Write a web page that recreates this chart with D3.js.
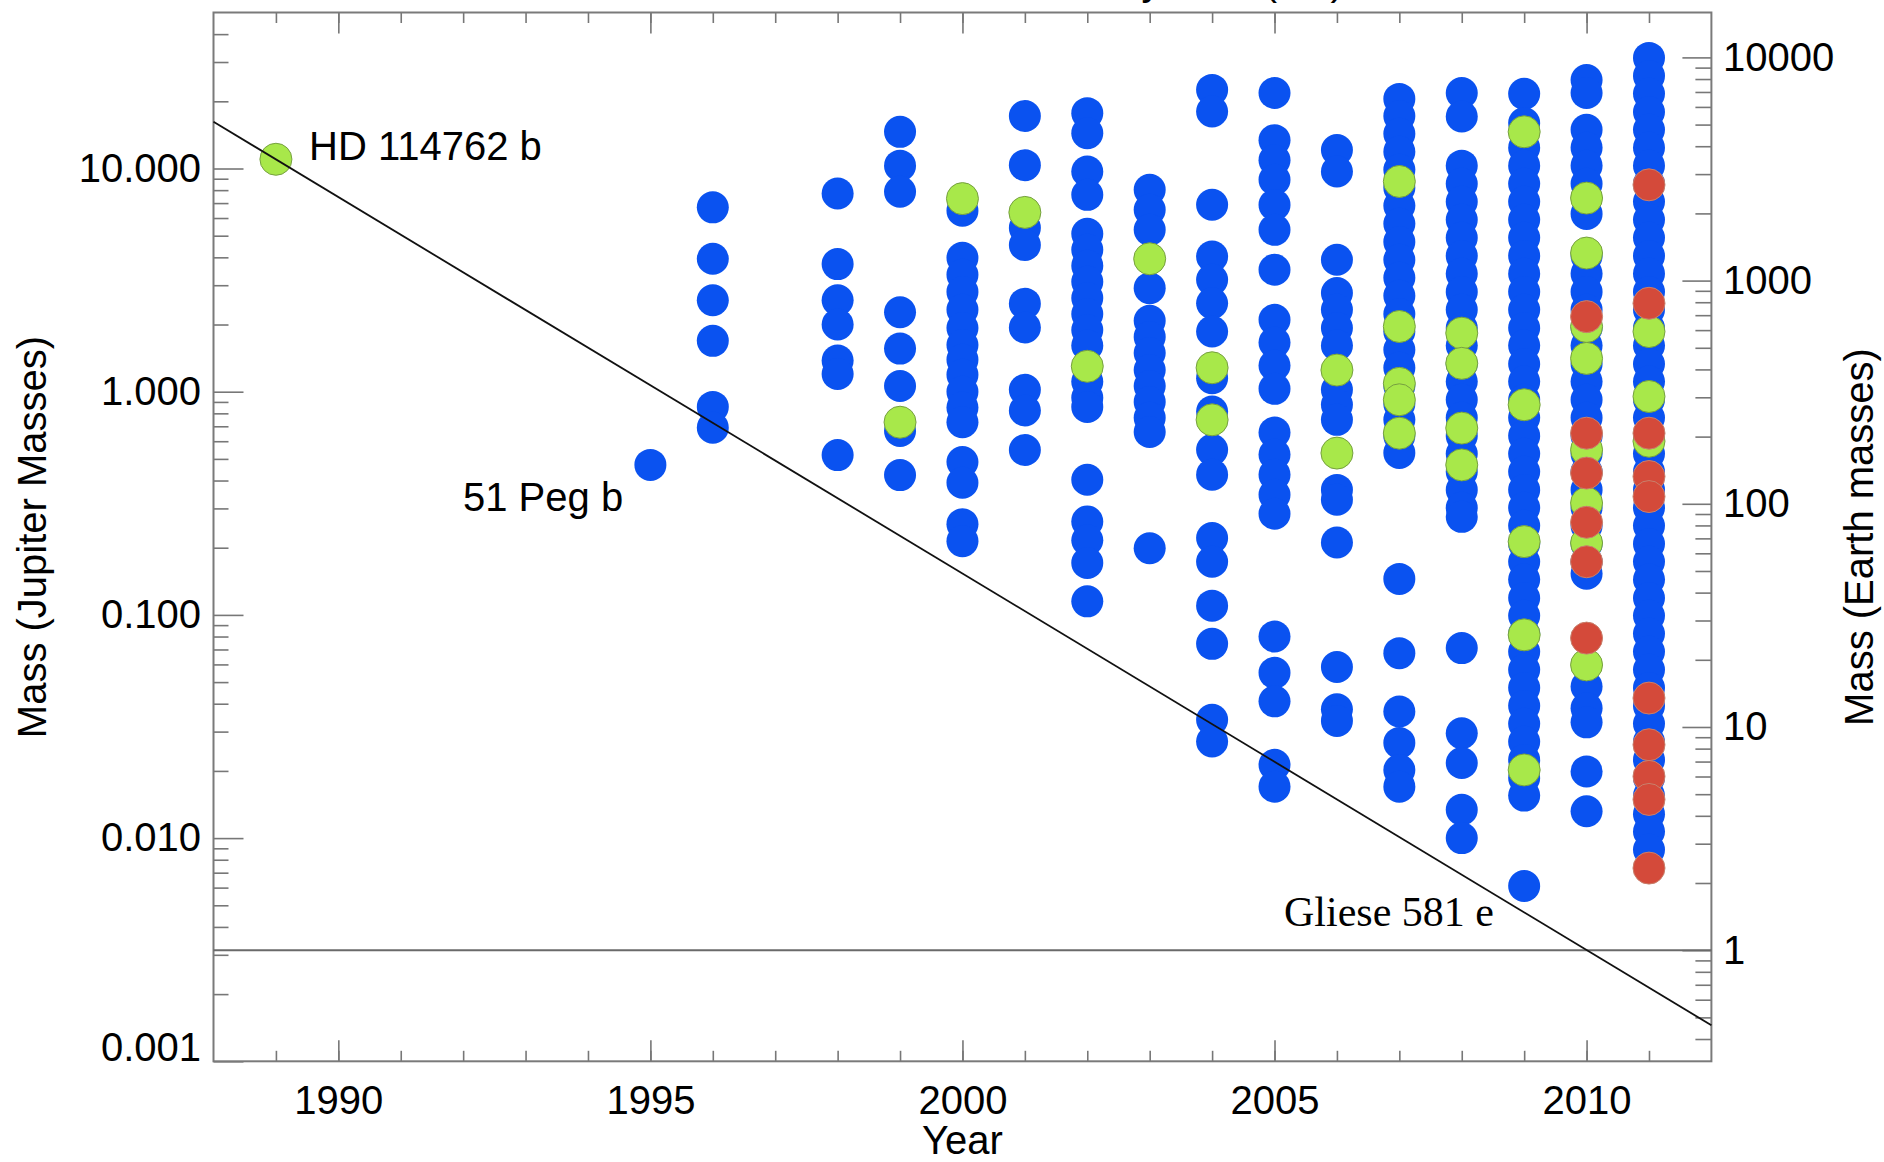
<!DOCTYPE html>
<html>
<head>
<meta charset="UTF-8">
<title>Planet mass by discovery year</title>
<script src="https://d3js.org/d3.v7.min.js"></script>
<style>
    body { margin: 0; background: #fff; }
    text { font-family: "Liberation Sans", Arial, Helvetica, sans-serif; fill: #000; }
    .axis text { font-size: 40px; }
    .axis line { stroke: #777; stroke-width: 1.6; }
    .frame { fill: none; stroke: #7a7a7a; stroke-width: 2; }
    .label { font-size: 40px; }
    .serif { font-family: "Liberation Serif", "Times New Roman", serif; font-size: 42px; }
    .blue { fill: #0a52f0; }
    .green { fill: #a8e84a; stroke: #76a040; stroke-width: 1; }
    .red { fill: #d44a3a; stroke: #c8806c; stroke-width: 1; }
</style>
</head>
<body>
<div id="chart"></div>
<script>
// masses in Jupiter masses, one list per discovery year (blue points)
const blue1995 = [0.47];
const blue1996 = [6.7, 3.94, 2.57, 1.69, 0.855, 0.69];
const blue1998 = [7.73, 3.73, 2.57, 2.0, 1.38, 1.2, 0.52];
const blue1999 = [14.6, 10.3, 7.87, 2.27, 1.56, 1.06, 0.667, 0.423];
const blue2000 = [6.47, 3.98, 3.34, 2.80, 2.33, 1.93, 1.62, 1.39, 1.19, 1.0, 0.85, 0.73, 0.484, 0.391, 0.255, 0.214];
const blue2001 = [17.2, 10.35, 5.42, 4.54, 2.48, 1.94, 1.02, 0.824, 0.548];
const blue2002 = [17.7, 14.4, 9.7, 7.62, 5.10, 4.32, 3.67, 3.11, 2.63, 2.23, 1.89, 1.61, 1.11, 0.94, 0.855, 0.403, 0.262, 0.216, 0.171, 0.115];
const blue2003 = [8.03, 6.53, 5.31, 2.91, 2.08, 1.76, 1.49, 1.25, 1.06, 0.90, 0.764, 0.66, 0.199];
const blue2004 = [22.5, 18.0, 6.88, 4.03, 3.17, 2.49, 1.86, 1.15, 0.815, 0.549, 0.425, 0.221, 0.173, 0.11, 0.0742, 0.0339, 0.0271];
const blue2005 = [21.8, 13.4, 10.9, 8.9, 6.87, 5.31, 3.52, 2.1, 1.66, 1.31, 1.03, 0.656, 0.523, 0.425, 0.345, 0.284, 0.08, 0.055, 0.041, 0.0213, 0.017];
const blue2006 = [12.1, 9.7, 3.90, 2.77, 2.33, 1.93, 1.61, 1.02, 0.874, 0.748, 0.363, 0.328, 0.211, 0.0584, 0.0378, 0.0335];
const blue2007 = [20.5, 17.2, 14.3, 11.9, 9.87, 8.19, 6.81, 5.65, 4.69, 3.90, 3.24, 2.69, 2.23, 1.86, 1.54, 1.28, 1.06, 0.883, 0.748, 0.634, 0.532, 0.145, 0.0674, 0.0369, 0.0267, 0.0202, 0.017];
const blue2008 = [21.8, 17.1, 10.3, 8.54, 7.09, 5.89, 4.89, 4.06, 3.38, 2.80, 2.33, 1.93, 1.61, 1.33, 1.11, 0.92, 0.764, 0.634, 0.527, 0.438, 0.363, 0.302, 0.275, 0.071, 0.0295, 0.0217, 0.0134, 0.010];
const blue2009 = [21.6, 16.0, 12.4, 10.3, 8.54, 7.09, 5.89, 4.89, 4.06, 3.38, 2.80, 2.33, 1.93, 1.61, 1.33, 1.11, 0.92, 0.764, 0.634, 0.527, 0.438, 0.363, 0.302, 0.251, 0.208, 0.173, 0.144, 0.119, 0.0991, 0.0823, 0.0684, 0.0568, 0.0471, 0.0391, 0.0325, 0.0270, 0.0224, 0.0186, 0.0155, 0.0061];
const blue2010 = [24.9, 21.8, 14.9, 12.4, 10.3, 8.54, 6.26, 4.06, 3.38, 2.80, 2.33, 1.93, 1.61, 1.33, 1.11, 0.92, 0.764, 0.634, 0.527, 0.438, 0.363, 0.302, 0.251, 0.208, 0.173, 0.153, 0.0478, 0.0382, 0.033, 0.0199, 0.0132];
const blue2011 = [31.3, 26.0, 21.6, 17.9, 14.9, 12.4, 10.3, 8.54, 7.09, 5.89, 4.89, 4.06, 3.38, 2.80, 2.33, 1.93, 1.61, 1.33, 1.11, 0.92, 0.764, 0.634, 0.527, 0.438, 0.363, 0.302, 0.251, 0.208, 0.173, 0.144, 0.119, 0.0991, 0.0823, 0.0684, 0.0568, 0.0471, 0.0391, 0.0325, 0.0270, 0.0224, 0.0186, 0.0155, 0.0128, 0.0107, 0.00886];

// green points
const greenYears = [1989, 1999, 2000, 2001, 2002, 2003, 2004, 2004, 2006, 2006,
    2007, 2007, 2007, 2007, 2007, 2008, 2008, 2008, 2008,
    2009, 2009, 2009, 2009, 2009, 2010, 2010, 2010, 2010, 2010, 2010, 2010, 2010,
    2011, 2011, 2011];
const greenMass = [11.0, 0.73, 7.33, 6.36, 1.30, 3.94, 1.28, 0.748, 1.25, 0.531,
    8.75, 1.96, 1.09, 0.92, 0.652, 1.83, 1.34, 0.687, 0.47,
    14.6, 0.874, 0.213, 0.0814, 0.0202, 7.37, 4.18, 1.96, 1.41, 0.549, 0.317, 0.21, 0.0597,
    1.86, 0.952, 0.60];

// red points
const redYears = [2010, 2010, 2010, 2010, 2010, 2010,
    2011, 2011, 2011, 2011, 2011, 2011, 2011, 2011, 2011, 2011];
const redMass = [2.17, 0.652, 0.432, 0.26, 0.173, 0.0787,
    8.45, 2.49, 0.652, 0.417, 0.339, 0.0424, 0.0262, 0.0189, 0.0149, 0.00734];

// axis ticks
const yearTicks = [1990, 1995, 2000, 2005, 2010];
const jupiterTicks = [0.001, 0.01, 0.1, 1, 10];
const earthTicks = [1, 10, 100, 1000, 10000];

// trend line through HD 114762 b and one Earth mass in 2010
const trendYears = [1988, 2012];
const trendMass = [16.2, 0.00145];

const EARTH_PER_JUPITER = 317.83;

const margin = {top: 12.5, right: 172.6, bottom: 100.7, left: 213.5};
const width = 1884 - margin.left - margin.right;
const height = 1162 - margin.top - margin.bottom;

const svg = d3.select("#chart")
    .append("svg")
        .attr("width", 1884)
        .attr("height", 1162);
const g = svg.append("g")
    .attr("transform", `translate(${margin.left},${margin.top})`);

const x = d3.scaleLinear().domain([1988, 2012]).range([0, width]);
const y = d3.scaleLog().domain([0.001, 50]).range([height, 0]);
const yEarth = d3.scaleLog()
    .domain([0.001 * EARTH_PER_JUPITER, 50 * EARTH_PER_JUPITER])
    .range([height, 0]);

function minorLogTicks(lo, hi) {
    const out = [];
    for (let e = Math.floor(Math.log10(lo)); e <= Math.ceil(Math.log10(hi)); e++) {
        for (let k = 2; k <= 9; k++) {
            const v = k * Math.pow(10, e);
            if (v > lo && v < hi) out.push(v);
        }
    }
    return out;
}
const noDomain = sel => sel.select(".domain").remove();

// bottom axis
g.append("g")
    .attr("class", "axis")
    .attr("transform", `translate(0,${height})`)
    .call(d3.axisBottom(x).tickValues(yearTicks).tickFormat(d3.format("d")).tickSize(-21).tickPadding(24))
    .call(noDomain);
g.append("g")
    .attr("class", "axis")
    .attr("transform", `translate(0,${height})`)
    .call(d3.axisBottom(x).tickValues(d3.range(1989, 2012)).tickFormat("").tickSize(-10.5))
    .call(noDomain);

// top axis (mirror, no labels)
g.append("g")
    .attr("class", "axis")
    .call(d3.axisTop(x).tickValues(yearTicks).tickFormat("").tickSize(-21))
    .call(noDomain);
g.append("g")
    .attr("class", "axis")
    .call(d3.axisTop(x).tickValues(d3.range(1989, 2012)).tickFormat("").tickSize(-10.5))
    .call(noDomain);

// left axis, Jupiter masses
const yAxisLeft = g.append("g")
    .attr("class", "axis")
    .call(d3.axisLeft(y).tickValues(jupiterTicks).tickFormat(d3.format(".3f")).tickSize(-30).tickPadding(12.5))
    .call(noDomain);
yAxisLeft.selectAll("text")
    .filter(d => d === 0.001)
    .attr("dy", "-0.03em");
g.append("g")
    .attr("class", "axis")
    .call(d3.axisLeft(y).tickValues(minorLogTicks(0.001, 50)).tickFormat("").tickSize(-15))
    .call(noDomain);

// right axis, Earth masses
g.append("g")
    .attr("class", "axis")
    .attr("transform", `translate(${width},0)`)
    .call(d3.axisRight(yEarth).tickValues(earthTicks).tickFormat(d3.format("d")).tickSize(-29).tickPadding(11.6))
    .call(noDomain);
g.append("g")
    .attr("class", "axis")
    .attr("transform", `translate(${width},0)`)
    .call(d3.axisRight(yEarth).tickValues(minorLogTicks(yEarth.domain()[0], yEarth.domain()[1])).tickFormat("").tickSize(-16))
    .call(noDomain);

// frame
g.append("rect")
    .attr("class", "frame")
    .attr("width", width)
    .attr("height", height);

// one Earth mass
g.append("line")
    .attr("x1", 0)
    .attr("x2", width)
    .attr("y1", y(1 / EARTH_PER_JUPITER))
    .attr("y2", y(1 / EARTH_PER_JUPITER))
    .attr("stroke", "#6a6a6a")
    .attr("stroke-width", 2);

// points
const blueColumns = [
    [1995, blue1995], [1996, blue1996], [1998, blue1998], [1999, blue1999],
    [2000, blue2000], [2001, blue2001], [2002, blue2002], [2003, blue2003],
    [2004, blue2004], [2005, blue2005], [2006, blue2006], [2007, blue2007],
    [2008, blue2008], [2009, blue2009], [2010, blue2010], [2011, blue2011]
];
const bluePoints = blueColumns.flatMap(([yr, ms]) => ms.map(m => ({year: yr, mass: m})));
const greenPoints = greenYears.map((yr, i) => ({year: yr, mass: greenMass[i]}));
const redPoints = redYears.map((yr, i) => ({year: yr, mass: redMass[i]}));

const R = 16;
[["blue", bluePoints], ["green", greenPoints], ["red", redPoints]].forEach(([cls, pts]) => {
    g.append("g").selectAll("circle")
        .data(pts)
        .join("circle")
            .attr("class", cls)
            .attr("cx", d => x(d.year))
            .attr("cy", d => y(d.mass))
            .attr("r", R);
});

// trend line
g.append("path")
    .datum(trendYears.map((yr, i) => [yr, trendMass[i]]))
    .attr("fill", "none")
    .attr("stroke", "#111")
    .attr("stroke-width", 1.8)
    .attr("d", d3.line().x(d => x(d[0])).y(d => y(d[1])));

// annotations
svg.append("text").attr("class", "label").attr("x", 309).attr("y", 160).text("HD 114762 b");
svg.append("text").attr("class", "label").attr("x", 463).attr("y", 511).text("51 Peg b");
svg.append("text").attr("class", "serif").attr("x", 1284).attr("y", 926).text("Gliese 581 e");

// axis titles
svg.append("text")
    .attr("class", "label")
    .attr("text-anchor", "middle")
    .attr("x", margin.left + width / 2)
    .attr("y", 1154)
    .text("Year");
svg.append("text")
    .attr("class", "label")
    .attr("text-anchor", "middle")
    .attr("transform", "translate(46,537) rotate(-90)")
    .text("Mass (Jupiter Masses)");
svg.append("text")
    .attr("class", "label")
    .attr("text-anchor", "middle")
    .attr("transform", "translate(1873,537) rotate(-90)")
    .text("Mass (Earth masses)");

// title, cut off by the top edge as in the source picture
svg.append("text")
    .attr("class", "label")
    .attr("text-anchor", "middle")
    .attr("x", 978)
    .attr("y", -5)
    .text("Mass of Planets Discovered by Year (MJ)");
</script>
</body>
</html>
